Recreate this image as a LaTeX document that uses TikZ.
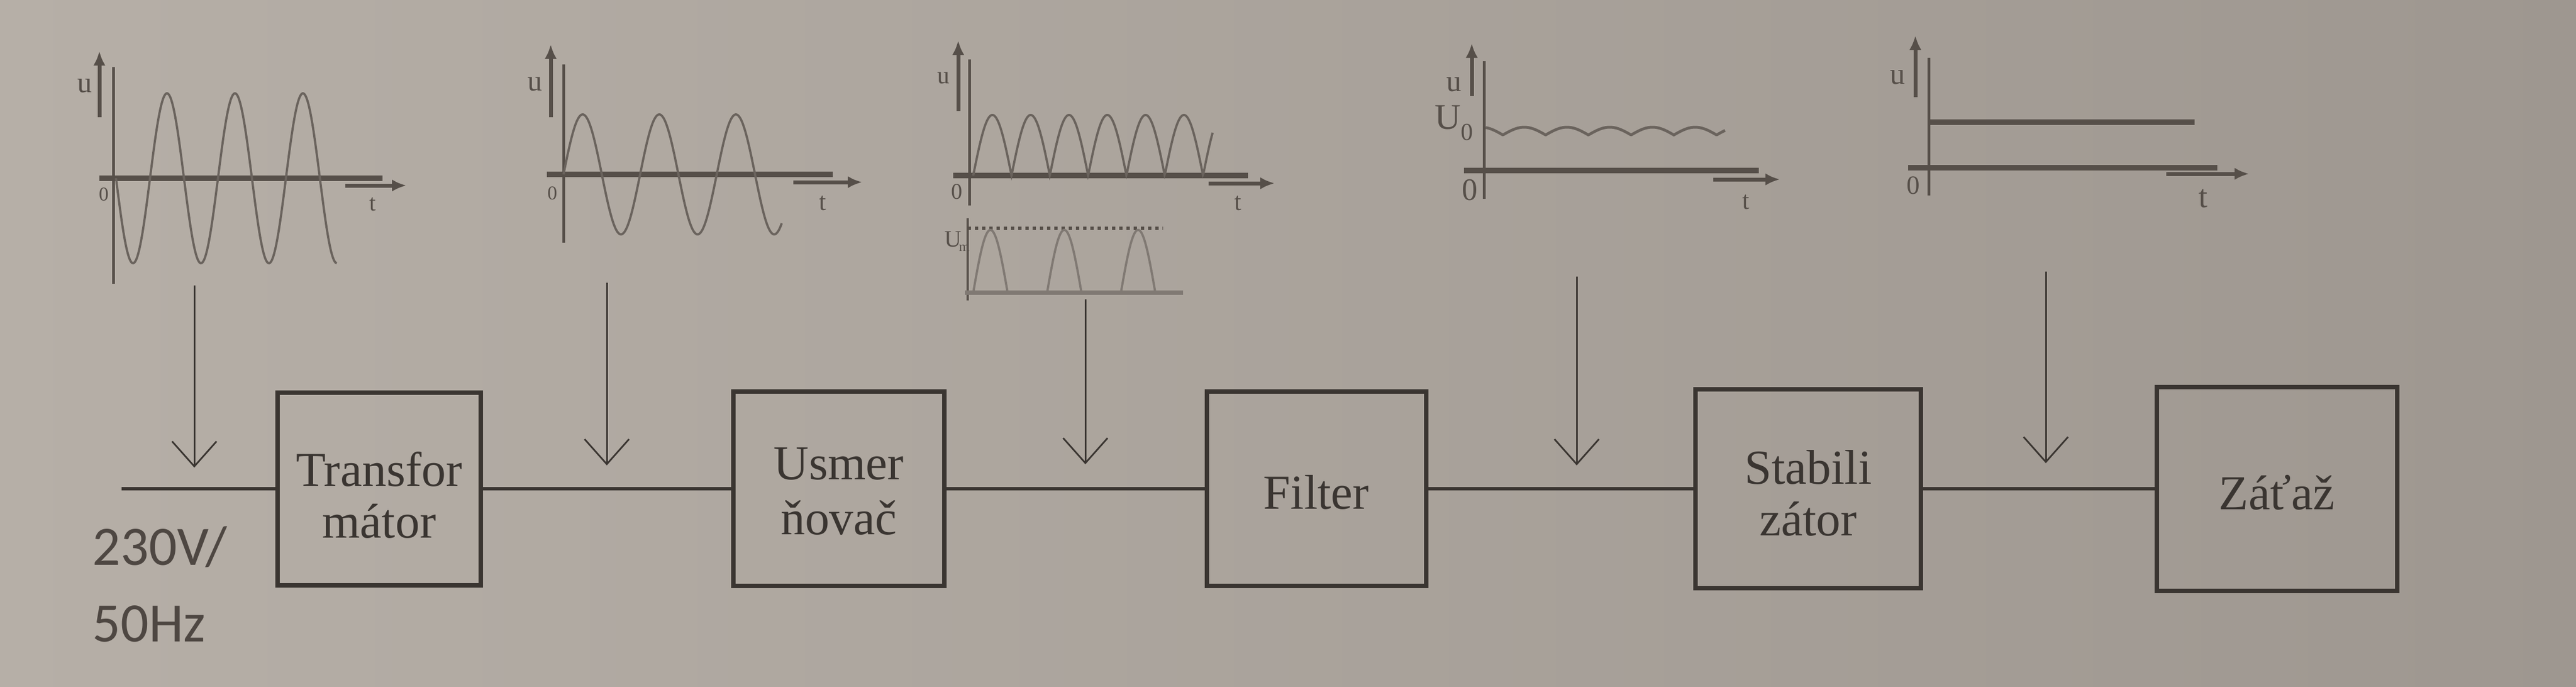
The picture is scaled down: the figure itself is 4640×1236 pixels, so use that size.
\documentclass[tikz,border=0pt]{standalone}
\usepackage{fontspec}
\setmainfont{Liberation Serif}
\newfontfamily\carl{Carlito}
\usetikzlibrary{arrows.meta}
\newcommand\mystrut[1]{\rule{0pt}{#1}}
\definecolor{bgL}{RGB}{182,175,167}
\definecolor{bgR}{RGB}{158,151,144}
\definecolor{ink}{RGB}{58,53,49}
\definecolor{gink}{RGB}{86,79,73}
\definecolor{wink}{RGB}{106,99,93}
\definecolor{link}{RGB}{128,121,115}
\begin{document}
\begin{tikzpicture}[x=0.1mm,y=-0.1mm,
  blk/.style={draw=ink, line width=0.8mm, align=center, inner sep=0pt,
    text=ink, font=\fontsize{25pt}{26.5pt}\selectfont},
  wire/.style={draw=ink, line width=0.65mm},
  sig/.style={draw=ink, line width=0.3mm, -{Straight Barb[length=4.5mm,width=8mm]}},
  ax/.style={draw=gink, line width=0.5mm},
  tax/.style={draw=gink, line width=1mm},
  sarr/.style={draw=gink, line width=0.7mm, -{Latex[length=2.6mm,width=2.2mm]}},
  wave/.style={draw=wink, line width=0.4mm},
  lwave/.style={draw=link, line width=0.4mm},
  lbl/.style={text=gink, inner sep=0pt, font=\fontsize{#1}{#1}\selectfont},
  inlbl/.style={text=gink!90!black, inner sep=0pt, anchor=base west,
    font=\carl\fontsize{28.5pt}{28.5pt}\selectfont}
]
\fill[left color=bgL, right color=bgR] (0,0) rectangle (4640,1236);
\useasboundingbox (0,0) rectangle (4640,1236);

% ---------- blocks ----------
\node[blk, minimum width=36.6mm, minimum height=34.7mm] (T) at (683,880) {\mystrut{24pt}Transfor\\mátor};
\node[blk, minimum width=38.0mm, minimum height=35.0mm, font=\fontsize{25pt}{28.4pt}\selectfont] (U) at (1511,880) {\mystrut{19pt}Usmer\\ňovač};
\node[blk, minimum width=39.5mm, minimum height=35.0mm] (F) at (2371,880) {\mystrut{21pt}Filter};
\node[blk, minimum width=40.6mm, minimum height=35.8mm] (S) at (3257,880) {\mystrut{21.7pt}Stabili\\zátor};
\node[blk, minimum width=43.3mm, minimum height=36.7mm] (Z) at (4101,880) {\mystrut{21.7pt}Záťaž};

\coordinate (in) at (219,880);
\draw[wire] (in) -- (T);
\draw[wire] (T) -- (U);
\draw[wire] (U) -- (F);
\draw[wire] (F) -- (S);
\draw[wire] (S) -- (Z);

\node[inlbl] (v1) at (166,1017) {230V/};
\node[inlbl] (v2) at (166,1155) {50Hz};

% ---------- signal arrows ----------
\coordinate (a1s) at (350,514);  \coordinate (a1e) at (350,842);
\coordinate (a2s) at (1093,509); \coordinate (a2e) at (1093,838);
\coordinate (a3s) at (1955,539); \coordinate (a3e) at (1955,836);
\coordinate (a4s) at (2840,498); \coordinate (a4e) at (2840,838);
\coordinate (a5s) at (3685,489); \coordinate (a5e) at (3685,834);
\draw[sig] (a1s) -- (a1e);
\draw[sig] (a2s) -- (a2e);
\draw[sig] (a3s) -- (a3e);
\draw[sig] (a4s) -- (a4e);
\draw[sig] (a5s) -- (a5e);

% ---------- graph 1: mains sine ----------
\draw[ax] (204,121) -- (204,511);
\draw[sarr] (179,211) -- (179,92);
\draw[tax] (179,321) -- (689,321);
\draw[sarr] (622,334) -- (732,334);
\draw[wave] plot[domain=0:3.25, samples=220, smooth] ({209+122.4*\x},{321+153*sin(360*\x)});
\node[lbl=15pt] (g1u) at (153,155) {u};
\node[lbl=10pt] (g1o) at (187,350) {0};
\node[lbl=12pt] (g1t) at (671,368) {t};

% ---------- graph 2: transformed sine ----------
\draw[ax] (1015,116) -- (1015,437);
\draw[sarr] (992,211) -- (992,80);
\draw[tax] (985,314) -- (1500,314);
\draw[sarr] (1429,328) -- (1553,328);
\draw[wave] plot[domain=0:2.85, samples=200, smooth] ({1015+138*\x},{314-108*sin(360*\x)});
\node[lbl=15pt] (g2u) at (964,152) {u};
\node[lbl=10pt] (g2o) at (995,348) {0};
\node[lbl=13pt] (g2t) at (1482,366) {t};

% ---------- graph 3: full-wave rectified ----------
\draw[ax] (1746,107) -- (1746,370);
\draw[sarr] (1726,200) -- (1726,73);
\draw[tax] (1717,316) -- (2248,316);
\draw[sarr] (2177,330) -- (2296,330);
\draw[wave] plot[domain=0:6.25, samples=320] ({1753+69*\x},{316-109*abs(sin(180*\x))});
\node[lbl=12.5pt] (g3u) at (1699,141) {u};
\node[lbl=11.5pt] (g3o) at (1724,345) {0};
\node[lbl=13pt] (g3t) at (2230,366) {t};

% ---------- graph 3b: half-wave ----------
\draw[ax, line width=0.4mm] (1743,393) -- (1743,541);
\draw[draw=link, line width=0.8mm] (1738,527) -- (2131,527);
\draw[draw=gink, line width=0.6mm, dash pattern=on 0.6mm off 0.7mm] (1743,411) -- (2095,411);
\foreach \k in {0,1,2}{
  \draw[lwave] plot[domain=0:1, samples=50, smooth] ({1753+133*\k+62*\x},{527-113*sin(180*\x)});
}
\node[lbl=12pt] (g3bU) at (1717,431) {U};
\node[lbl=7pt] (g3bm) at (1737,447) {m};

% ---------- graph 4: filtered ----------
\draw[ax] (2673,110) -- (2673,358);
\draw[sarr] (2651,173) -- (2651,78);
\draw[tax] (2637,307) -- (3168,307);
\draw[sarr] (3086,323) -- (3206,323);
\draw[wave, line width=0.5mm] plot[domain=-0.4:5.2, samples=300] ({2707+77*\x},{229+14*(1-abs(sin(180*\x)))});
\node[lbl=15.5pt] (g4u) at (2619,152) {u};
\node[lbl=18.5pt] (g4U) at (2608,212) {U};
\node[lbl=12.5pt] (g4s) at (2642,238) {0};
\node[lbl=16pt] (g4o) at (2648,342) {0};
\node[lbl=13pt] (g4t) at (3145,364) {t};

% ---------- graph 5: stabilised DC ----------
\draw[ax] (3474,104) -- (3474,352);
\draw[sarr] (3450,175) -- (3450,64);
\draw[tax] (3475,220) -- (3953,220);
\draw[tax] (3437,302) -- (3994,302);
\draw[sarr] (3902,313) -- (4051,313);
\node[lbl=15.5pt] (g5u) at (3418,139) {u};
\node[lbl=13.5pt] (g5o) at (3446,334) {0};
\node[lbl=16.5pt] (g5t) at (3969,357) {t};
\end{tikzpicture}
\end{document}
